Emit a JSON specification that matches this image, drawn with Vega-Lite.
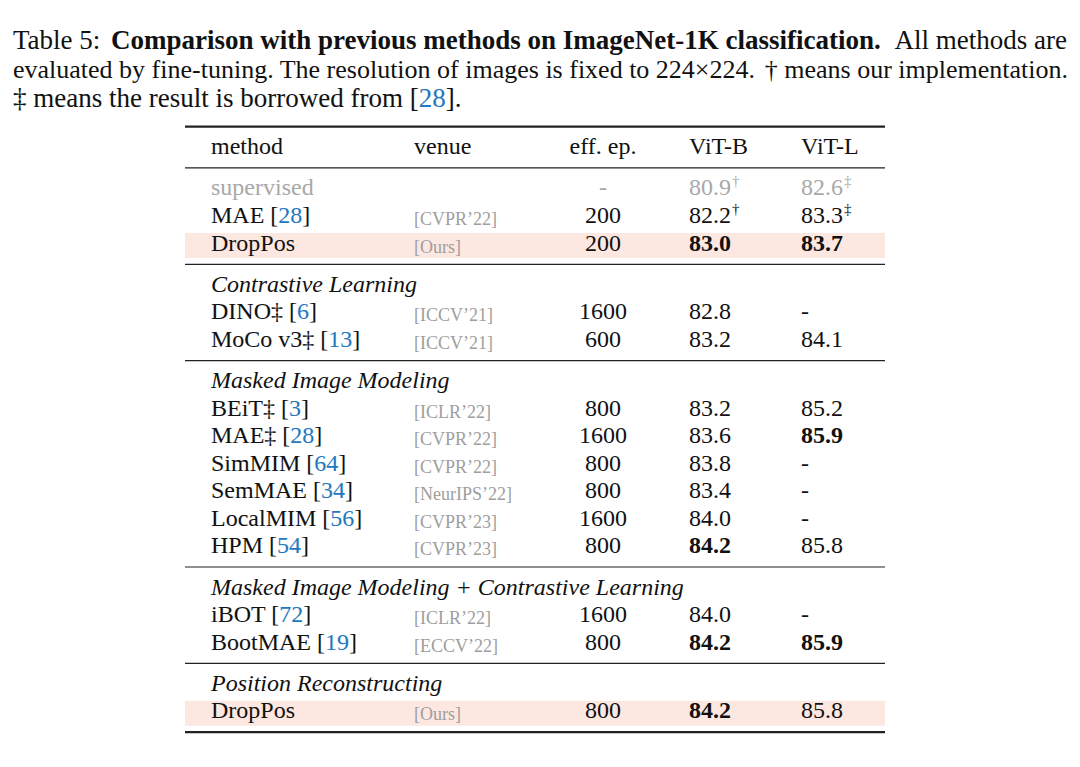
{
  "$schema": "https://vega.github.io/schema/vega-lite/v6.json",
  "width": 1080,
  "height": 767,
  "autosize": {"type": "fit", "contains": "padding"},
  "padding": 0,
  "background": "white",
  "config": {"view": {"stroke": null}, "text": {"font": "Liberation Serif", "baseline": "alphabetic", "align": "left"}},
  "datasets": {
    "caption": [
      {"cline": 1, "lead": "Table 5:", "bold": "Comparison with previous methods on ImageNet-1K classification.", "tail": "All methods are"},
      {"cline": 2, "lead": "evaluated by fine-tuning. The resolution of images is fixed to 224×224.", "tail": "† means our implementation."},
      {"cline": 3, "lead": "‡ means the result is borrowed from", "ref": "28", "after": "."}
    ],
    "rows": [
      {"line": 0, "kind": "header", "name": "method", "venue": "venue", "ep": "eff. ep.", "vitb": "ViT-B", "vitl": "ViT-L"},
      {"line": 1.5, "kind": "supervised", "name": "supervised", "ep": "-", "vitb": "80.9", "vitb_note": "†", "vitl": "82.6", "vitl_note": "‡"},
      {"line": 2.5, "kind": "method", "name": "MAE", "ref": "28", "venue": "[CVPR’22]", "ep": "200", "vitb": "82.2", "vitb_note": "†", "vitl": "83.3", "vitl_note": "‡"},
      {"line": 3.5, "kind": "ours", "name": "DropPos", "venue": "[Ours]", "ep": "200", "vitb": "83.0", "vitb_best": true, "vitl": "83.7", "vitl_best": true},
      {"line": 5, "kind": "section", "name": "Contrastive Learning"},
      {"line": 6, "kind": "method", "name": "DINO‡", "ref": "6", "venue": "[ICCV’21]", "ep": "1600", "vitb": "82.8", "vitl": "-"},
      {"line": 7, "kind": "method", "name": "MoCo v3‡", "ref": "13", "venue": "[ICCV’21]", "ep": "600", "vitb": "83.2", "vitl": "84.1"},
      {"line": 8.5, "kind": "section", "name": "Masked Image Modeling"},
      {"line": 9.5, "kind": "method", "name": "BEiT‡", "ref": "3", "venue": "[ICLR’22]", "ep": "800", "vitb": "83.2", "vitl": "85.2"},
      {"line": 10.5, "kind": "method", "name": "MAE‡", "ref": "28", "venue": "[CVPR’22]", "ep": "1600", "vitb": "83.6", "vitl": "85.9", "vitl_best": true},
      {"line": 11.5, "kind": "method", "name": "SimMIM", "ref": "64", "venue": "[CVPR’22]", "ep": "800", "vitb": "83.8", "vitl": "-"},
      {"line": 12.5, "kind": "method", "name": "SemMAE", "ref": "34", "venue": "[NeurIPS’22]", "ep": "800", "vitb": "83.4", "vitl": "-"},
      {"line": 13.5, "kind": "method", "name": "LocalMIM", "ref": "56", "venue": "[CVPR’23]", "ep": "1600", "vitb": "84.0", "vitl": "-"},
      {"line": 14.5, "kind": "method", "name": "HPM", "ref": "54", "venue": "[CVPR’23]", "ep": "800", "vitb": "84.2", "vitb_best": true, "vitl": "85.8"},
      {"line": 16, "kind": "section", "name": "Masked Image Modeling + Contrastive Learning"},
      {"line": 17, "kind": "method", "name": "iBOT", "ref": "72", "venue": "[ICLR’22]", "ep": "1600", "vitb": "84.0", "vitl": "-"},
      {"line": 18, "kind": "method", "name": "BootMAE", "ref": "19", "venue": "[ECCV’22]", "ep": "800", "vitb": "84.2", "vitb_best": true, "vitl": "85.9", "vitl_best": true},
      {"line": 19.5, "kind": "section", "name": "Position Reconstructing"},
      {"line": 20.5, "kind": "ours", "name": "DropPos", "venue": "[Ours]", "ep": "800", "vitb": "84.2", "vitb_best": true, "vitl": "85.8"}
    ],
    "rules": [
      {"line": -1, "weight": "heavy"},
      {"line": 0.5, "weight": "light"},
      {"line": 4, "weight": "light"},
      {"line": 7.5, "weight": "light"},
      {"line": 15, "weight": "light"},
      {"line": 18.5, "weight": "light"},
      {"line": 21, "weight": "heavy"}
    ]
  },
  "layer": [
    {
      "data": {"name": "caption"},
      "encoding": {
        "y": {"field": "cline", "type": "quantitative", "scale": {"domain": [-0.6897, 25.759], "reverse": true, "nice": false, "zero": false}, "axis": null}
      },
      "layer": [
        {
          "transform": [{"filter": "datum.cline !== 2"}, {"calculate": "datum.ref ? datum.lead + ' [' + datum.ref + ']' + datum.after : datum.lead", "as": "label"}],
          "mark": {"type": "text", "fontSize": 27, "color": "#111111"},
          "encoding": {"x": {"datum": 13, "type": "quantitative", "scale": {"domain": [0, 1080], "nice": false, "zero": false}, "axis": null}, "text": {"field": "label"}}
        },
        {
          "transform": [{"filter": "datum.ref"}, {"calculate": "datum.lead + ' [' + datum.ref", "as": "label"}],
          "mark": {"type": "text", "fontSize": 27, "fill": "white", "stroke": "white", "strokeWidth": 1.2},
          "encoding": {"x": {"datum": 13, "type": "quantitative", "axis": null}, "text": {"field": "label"}}
        },
        {
          "transform": [{"filter": "datum.ref"}, {"calculate": "datum.lead + ' [' + datum.ref", "as": "label"}],
          "mark": {"type": "text", "fontSize": 27, "color": "#2278c0"},
          "encoding": {"x": {"datum": 13, "type": "quantitative", "axis": null}, "text": {"field": "label"}}
        },
        {
          "transform": [{"filter": "datum.ref"}, {"calculate": "datum.lead + ' ['", "as": "label"}],
          "mark": {"type": "text", "fontSize": 27, "fill": "white", "stroke": "white", "strokeWidth": 1.2},
          "encoding": {"x": {"datum": 13, "type": "quantitative", "axis": null}, "text": {"field": "label"}}
        },
        {
          "transform": [{"filter": "datum.ref"}, {"calculate": "datum.lead + ' ['", "as": "label"}],
          "mark": {"type": "text", "fontSize": 27, "color": "#111111"},
          "encoding": {"x": {"datum": 13, "type": "quantitative", "axis": null}, "text": {"field": "label"}}
        },
        {
          "transform": [{"filter": "datum.cline === 2"}],
          "mark": {"type": "text", "fontSize": 26, "color": "#111111"},
          "encoding": {"x": {"datum": 13, "type": "quantitative", "axis": null}, "text": {"field": "lead"}}
        },
        {
          "transform": [{"filter": "datum.bold"}],
          "mark": {"type": "text", "fontSize": 27, "fontWeight": "bold", "color": "#111111"},
          "encoding": {"x": {"datum": 111, "type": "quantitative", "axis": null}, "text": {"field": "bold"}}
        },
        {
          "transform": [{"filter": "datum.tail && datum.cline === 1"}],
          "mark": {"type": "text", "fontSize": 27, "align": "right", "color": "#111111"},
          "encoding": {"x": {"datum": 1067, "type": "quantitative", "axis": null}, "text": {"field": "tail"}}
        },
        {
          "transform": [{"filter": "datum.tail && datum.cline === 2"}],
          "mark": {"type": "text", "fontSize": 26, "align": "right", "color": "#111111"},
          "encoding": {"x": {"datum": 1068, "type": "quantitative", "axis": null}, "text": {"field": "tail"}}
        }
      ]
    },
    {
      "encoding": {
        "y": {"field": "line", "type": "quantitative", "scale": {"domain": [-5.603, 22.267], "reverse": true, "nice": false, "zero": false}, "axis": null}
      },
      "layer": [
        {
          "data": {"name": "rows"},
          "transform": [{"filter": "datum.kind === 'ours'"}],
          "mark": {"type": "rule", "strokeWidth": 25, "color": "#fde7e1", "yOffset": -5, "strokeCap": "butt"},
          "encoding": {"x": {"datum": 185, "type": "quantitative", "axis": null}, "x2": {"datum": 885}}
        },
        {
          "data": {"name": "rules"},
          "mark": {"type": "rule", "color": "#222222", "strokeCap": "butt"},
          "encoding": {
            "x": {"datum": 185, "type": "quantitative", "axis": null},
            "x2": {"datum": 885},
            "strokeWidth": {"field": "weight", "type": "nominal", "scale": {"domain": ["heavy", "light"], "range": [2.2, 1.2]}, "legend": null}
          }
        },
        {
          "data": {"name": "rows"},
          "transform": [{"filter": "datum.kind !== 'section'"}, {"calculate": "datum.ref ? datum.name + ' [' + datum.ref + ']' : datum.name", "as": "label"}],
          "mark": {"type": "text", "fontSize": 24},
          "encoding": {
            "x": {"datum": 211, "type": "quantitative", "axis": null},
            "text": {"field": "label"},
            "color": {"condition": {"test": "datum.kind === 'supervised'", "value": "#a8a8a8"}, "value": "#111111"}
          }
        },
        {
          "data": {"name": "rows"},
          "transform": [{"filter": "datum.ref"}, {"calculate": "datum.name + ' [' + datum.ref", "as": "label"}],
          "mark": {"type": "text", "fontSize": 24, "fill": "white", "stroke": "white", "strokeWidth": 1.2},
          "encoding": {"x": {"datum": 211, "type": "quantitative", "axis": null}, "text": {"field": "label"}}
        },
        {
          "data": {"name": "rows"},
          "transform": [{"filter": "datum.ref"}, {"calculate": "datum.name + ' [' + datum.ref", "as": "label"}],
          "mark": {"type": "text", "fontSize": 24, "color": "#2278c0"},
          "encoding": {"x": {"datum": 211, "type": "quantitative", "axis": null}, "text": {"field": "label"}}
        },
        {
          "data": {"name": "rows"},
          "transform": [{"filter": "datum.ref"}, {"calculate": "datum.name + ' ['", "as": "label"}],
          "mark": {"type": "text", "fontSize": 24, "fill": "white", "stroke": "white", "strokeWidth": 1.2},
          "encoding": {"x": {"datum": 211, "type": "quantitative", "axis": null}, "text": {"field": "label"}}
        },
        {
          "data": {"name": "rows"},
          "transform": [{"filter": "datum.ref"}, {"calculate": "datum.name + ' ['", "as": "label"}],
          "mark": {"type": "text", "fontSize": 24, "color": "#111111"},
          "encoding": {"x": {"datum": 211, "type": "quantitative", "axis": null}, "text": {"field": "label"}}
        },
        {
          "data": {"name": "rows"},
          "transform": [{"filter": "datum.kind === 'section'"}],
          "mark": {"type": "text", "fontSize": 24, "fontStyle": "italic", "color": "#111111"},
          "encoding": {"x": {"datum": 211, "type": "quantitative", "axis": null}, "text": {"field": "name"}}
        },
        {
          "data": {"name": "rows"},
          "transform": [{"filter": "datum.kind === 'header'"}],
          "mark": {"type": "text", "fontSize": 24, "color": "#111111"},
          "encoding": {"x": {"datum": 414, "type": "quantitative", "axis": null}, "text": {"field": "venue"}}
        },
        {
          "data": {"name": "rows"},
          "transform": [{"filter": "datum.kind !== 'header' && datum.venue"}],
          "mark": {"type": "text", "fontSize": 18, "dy": 2, "color": "#9e9e9e"},
          "encoding": {"x": {"datum": 414, "type": "quantitative", "axis": null}, "text": {"field": "venue"}}
        },
        {
          "data": {"name": "rows"},
          "transform": [{"filter": "datum.ep"}],
          "mark": {"type": "text", "fontSize": 24, "align": "center"},
          "encoding": {
            "x": {"datum": 603, "type": "quantitative", "axis": null},
            "text": {"field": "ep"},
            "color": {"condition": {"test": "datum.kind === 'supervised'", "value": "#a8a8a8"}, "value": "#111111"}
          }
        },
        {
          "data": {"name": "rows"},
          "transform": [{"filter": "datum.vitb && !datum.vitb_best"}],
          "mark": {"type": "text", "fontSize": 24},
          "encoding": {
            "x": {"datum": 689, "type": "quantitative", "axis": null},
            "text": {"field": "vitb"},
            "color": {"condition": {"test": "datum.kind === 'supervised'", "value": "#a8a8a8"}, "value": "#111111"}
          }
        },
        {
          "data": {"name": "rows"},
          "transform": [{"filter": "datum.vitb_best"}],
          "mark": {"type": "text", "fontSize": 24, "fontWeight": "bold", "color": "#111111"},
          "encoding": {"x": {"datum": 689, "type": "quantitative", "axis": null}, "text": {"field": "vitb"}}
        },
        {
          "data": {"name": "rows"},
          "transform": [{"filter": "datum.vitb_note"}],
          "mark": {"type": "text", "fontSize": 15, "dx": 43, "dy": -9},
          "encoding": {
            "x": {"datum": 689, "type": "quantitative", "axis": null},
            "text": {"field": "vitb_note"},
            "color": {"condition": {"test": "datum.kind === 'supervised'", "value": "#a8a8a8"}, "value": "#111111"}
          }
        },
        {
          "data": {"name": "rows"},
          "transform": [{"filter": "datum.vitl && !datum.vitl_best"}],
          "mark": {"type": "text", "fontSize": 24},
          "encoding": {
            "x": {"datum": 801, "type": "quantitative", "axis": null},
            "text": {"field": "vitl"},
            "color": {"condition": {"test": "datum.kind === 'supervised'", "value": "#a8a8a8"}, "value": "#111111"}
          }
        },
        {
          "data": {"name": "rows"},
          "transform": [{"filter": "datum.vitl_best"}],
          "mark": {"type": "text", "fontSize": 24, "fontWeight": "bold", "color": "#111111"},
          "encoding": {"x": {"datum": 801, "type": "quantitative", "axis": null}, "text": {"field": "vitl"}}
        },
        {
          "data": {"name": "rows"},
          "transform": [{"filter": "datum.vitl_note"}],
          "mark": {"type": "text", "fontSize": 15, "dx": 43, "dy": -9},
          "encoding": {
            "x": {"datum": 801, "type": "quantitative", "axis": null},
            "text": {"field": "vitl_note"},
            "color": {"condition": {"test": "datum.kind === 'supervised'", "value": "#a8a8a8"}, "value": "#111111"}
          }
        }
      ]
    }
  ],
  "resolve": {"scale": {"y": "independent"}}
}
